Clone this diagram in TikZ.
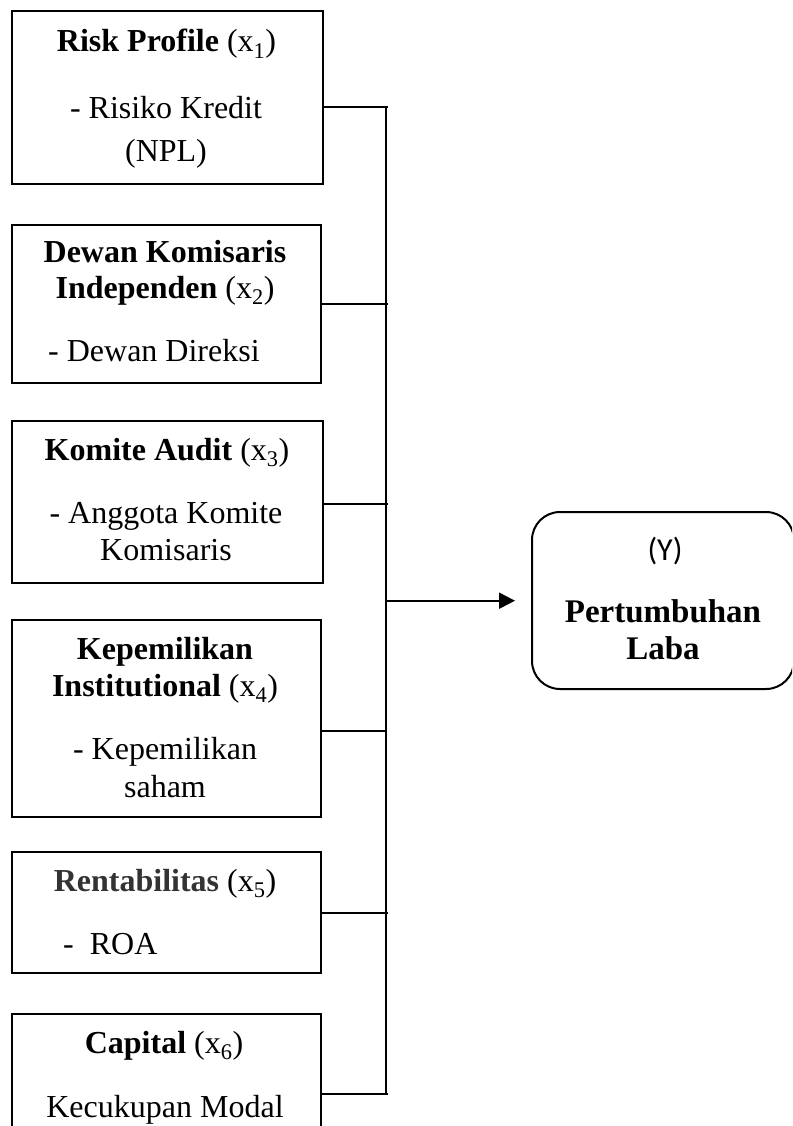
\documentclass[tikz,border=0pt]{standalone}
\usepackage{fontspec}
\setmainfont{Liberation Serif}
\newfontfamily\calibrifont{Carlito}
\usetikzlibrary{arrows.meta}
\definecolor{grayish}{HTML}{333333}
\begin{document}
\begin{tikzpicture}[x=1pt,y=-1pt,
  box/.style={draw=black,line width=2pt,inner sep=0pt,anchor=north west},
  conn/.style={draw=black,line width=2pt},
  t/.style={anchor=base,inner sep=0pt,font=\fontsize{32}{38}\selectfont},
  tl/.style={anchor=base west,inner sep=0pt,font=\fontsize{32}{38}\selectfont}]
\useasboundingbox (0,0) rectangle (792,1126);
\begin{scope}
\clip (0,0) rectangle (792,1126);
% boxes
\node[box,minimum width=311pt,minimum height=173pt] (b1) at (11,10) {};
\node[box,minimum width=309pt,minimum height=158pt] (b2) at (11,224) {};
\node[box,minimum width=311pt,minimum height=162pt] (b3) at (11,420) {};
\node[box,minimum width=309pt,minimum height=197pt] (b4) at (11,619) {};
\node[box,minimum width=309pt,minimum height=121pt] (b5) at (11,851) {};
\node[box,minimum width=309pt,minimum height=140pt] (b6) at (11,1013) {};
\node[box,rounded corners=28pt,minimum width=262pt,minimum height=177pt] (y) at (531,511) {};
\end{scope}
% texts
\node[t] (t11) at (166.5,52) {\textbf{Risk Profile} (x\textsubscript{1})};
\node[t] (t12) at (166,119) {- Risiko Kredit};
\node[t] (t13) at (166,162) {(NPL)};
\node[t] (t21) at (165,262) {\textbf{Dewan Komisaris}};
\node[t] (t22) at (165,298) {\textbf{Independen} (x\textsubscript{2})};
\node[tl] (t23) at (48,361) {- Dewan Direksi};
\node[t] (t31) at (167,460) {\textbf{Komite Audit} (x\textsubscript{3})};
\node[t] (t32) at (166,523) {- Anggota Komite};
\node[t] (t33) at (166,560) {Komisaris};
\node[t] (t41) at (165,659) {\textbf{Kepemilikan}};
\node[t] (t42) at (165,696) {\textbf{Institutional} (x\textsubscript{4})};
\node[t] (t43) at (165,759) {- Kepemilikan};
\node[t] (t44) at (165,797) {saham};
\node[t] (t51) at (165,891) {{\color{grayish}\textbf{Rentabilitas}} (x\textsubscript{5})};
\node[tl] (t52) at (63,954) {-\ \ ROA};
\node[t] (t61) at (164,1053) {\textbf{Capital} (x\textsubscript{6})};
\node[t] (t62) at (165,1117) {Kecukupan Modal};
\node[anchor=base,inner sep=0pt,font=\calibrifont\fontsize{32}{36}\selectfont] (ty1) at (665,560) {(Y)};
\node[t,font=\fontsize{33}{38}\selectfont\bfseries] (ty2) at (663,622) {Pertumbuhan};
\node[t,font=\fontsize{33}{38}\selectfont\bfseries] (ty3) at (663,659) {Laba};
% junctions on the trunk
\coordinate (j1) at (385.7,107);
\coordinate (j2) at (385.7,304);
\coordinate (j3) at (385.7,504);
\coordinate (j4) at (385.7,731);
\coordinate (j5) at (385.7,913);
\coordinate (j6) at (385.7,1094);
\coordinate (ja) at (385.7,600.7);
\coordinate (jt) at (515,600.7);
\draw[conn] (j1) -- (j6);
\draw[conn] (b1.east |- j1) -- ([xshift=2pt]j1);
\draw[conn] (b2.east |- j2) -- ([xshift=2pt]j2);
\draw[conn] (b3.east |- j3) -- ([xshift=2pt]j3);
\draw[conn] ([xshift=-2pt]b4.east |- j4) -- (j4);
\draw[conn] (b5.east |- j5) -- ([xshift=2pt]j5);
\draw[conn] (b6.east |- j6) -- ([xshift=2pt]j6);
\draw[conn,-{Triangle[length=16pt,width=16pt]}] (ja) -- (jt);
\end{tikzpicture}
\end{document}
